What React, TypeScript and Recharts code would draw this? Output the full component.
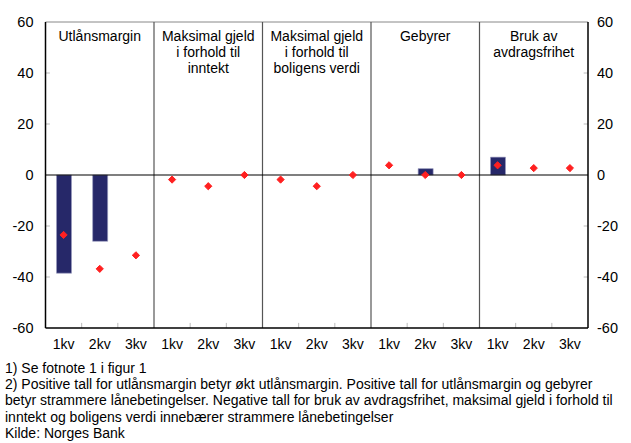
import React from 'react';
import {
  ComposedChart, Bar, Scatter, XAxis, YAxis, ReferenceLine, ReferenceArea,
} from 'recharts';

const panels = [
  ['Utlånsmargin'],
  ['Maksimal gjeld', 'i forhold til', 'inntekt'],
  ['Maksimal gjeld', 'i forhold til', 'boligens verdi'],
  ['Gebyrer'],
  ['Bruk av', 'avdragsfrihet'],
];
const quarters = ['1kv', '2kv', '3kv'];
const barValues: (number | null)[] = [-38.5, -26, null, null, null, null, null, null, null, null, 2.5, null, 7, null, null];
const pointValues: number[] = [-23.5, -36.8, -31.5, -1.8, -4.4, 0, -1.8, -4.4, 0, 3.8, 0, 0, 3.8, 2.7, 2.7];
const yTicks = [-60, -40, -20, 0, 20, 40, 60];
const footnotes = [
  '1) Se fotnote 1 i figur 1',
  '2) Positive tall for utlånsmargin betyr økt utlånsmargin. Positive tall for utlånsmargin og gebyrer',
  'betyr strammere lånebetingelser. Negative tall for bruk av avdragsfrihet, maksimal gjeld i forhold til',
  'inntekt og boligens verdi innebærer strammere lånebetingelser',
  'Kilde: Norges Bank',
];

const data = pointValues.map((p, i) => ({
  x: i + 0.5,
  q: quarters[i % 3],
  bar: barValues[i],
  point: p,
}));
const xTicks = data.map((d) => d.x);
const dividers = [3, 6, 9, 12];
const minorX = [1, 2, 4, 5, 7, 8, 10, 11, 13, 14];
const minorY = [-40, -20, 20, 40];

const FONT = 'Arial, "Liberation Sans", sans-serif';

const Diamond = (props: any) => {
  const { cx, cy } = props;
  if (cx == null || cy == null) return null;
  const r = 3.6;
  return (
    <polygon
      points={`${cx},${cy - r} ${cx + r},${cy} ${cx},${cy + r} ${cx - r},${cy}`}
      fill="#ff2020"
      stroke="#ff2020"
      strokeWidth={1}
    />
  );
};

const PanelLabel = (lines: string[]) => (props: any) => {
  const vb = props.viewBox || {};
  const cx = vb.x + vb.width / 2;
  return (
    <text x={cx} y={vb.y} textAnchor="middle" fontSize={14} fill="#000" fontFamily={FONT}>
      {lines.map((l, k) => (
        <tspan key={k} x={cx} dy={k === 0 ? 19 : 16}>{l}</tspan>
      ))}
    </text>
  );
};

export default function App() {
  return (
    <div style={{ position: 'absolute', left: 0, top: 0, width: 631, height: 443, background: '#fff', fontFamily: FONT }}>
      <ComposedChart
        width={631}
        height={360}
        data={data}
        margin={{ top: 22, right: 0, bottom: 7, left: 0 }}
      >
        <XAxis
          dataKey="x"
          type="number"
          domain={[0, 15]}
          ticks={xTicks}
          interval={0}
          tickFormatter={(v: number) => quarters[Math.floor(v) % 3]}
          tickLine={false}
          tickMargin={5}
          height={25}
          axisLine={{ stroke: '#000', strokeWidth: 1.5 }}
          tick={{ fill: '#000', fontSize: 14, fontFamily: FONT }}
        />
        <YAxis
          yAxisId="left"
          domain={[-60, 60]}
          ticks={yTicks}
          interval={0}
          width={45.5}
          tickLine={false}
          tickMargin={6}
          axisLine={{ stroke: '#000', strokeWidth: 1.5 }}
          tick={{ fill: '#000', fontSize: 14.5, fontFamily: FONT }}
        />
        <YAxis
          yAxisId="right"
          orientation="right"
          domain={[-60, 60]}
          ticks={yTicks}
          interval={0}
          width={43}
          tickLine={false}
          tickMargin={3}
          axisLine={{ stroke: '#000', strokeWidth: 1.5 }}
          tick={{ fill: '#000', fontSize: 14.5, fontFamily: FONT, textAnchor: 'start' }}
        />
        <ReferenceLine yAxisId="left" y={60} stroke="#888" strokeWidth={1} />
        {dividers.map((d) => (
          <ReferenceLine key={'d' + d} yAxisId="left" x={d} stroke="#555" strokeWidth={1.2} />
        ))}
        {minorX.map((m) => (
          <ReferenceLine key={'mx' + m} yAxisId="left" segment={[{ x: m, y: -60 }, { x: m, y: -58 }]} stroke="#bbb" />
        ))}
        {minorY.map((m) => (
          <ReferenceLine key={'myl' + m} yAxisId="left" segment={[{ x: 0, y: m }, { x: 0.12, y: m }]} stroke="#bbb" />
        ))}
        {minorY.map((m) => (
          <ReferenceLine key={'myr' + m} yAxisId="left" segment={[{ x: 14.88, y: m }, { x: 15, y: m }]} stroke="#bbb" />
        ))}
        {panels.map((lines, i) => (
          <ReferenceArea
            key={'p' + i}
            yAxisId="left"
            x1={i * 3}
            x2={i * 3 + 3}
            y1={40}
            y2={60}
            fill="none"
            stroke="none"
            label={PanelLabel(lines)}
          />
        ))}
        <Bar
          yAxisId="left"
          dataKey="bar"
          barSize={15}
          fill="#262869"
          stroke="#9a9cc0"
          strokeWidth={0.6}
          isAnimationActive={false}
        />
        <ReferenceLine yAxisId="left" y={0} stroke="#000" strokeWidth={1.2} />
        <Scatter
          yAxisId="right"
          dataKey="point"
          shape={<Diamond />}
          isAnimationActive={false}
        />
      </ComposedChart>
      <div style={{ position: 'absolute', left: 5, top: 360, fontSize: 14, lineHeight: '16.2px', color: '#000', whiteSpace: 'nowrap' }}>
        {footnotes.map((f, i) => (
          <div key={i}>{f}</div>
        ))}
      </div>
    </div>
  );
}
